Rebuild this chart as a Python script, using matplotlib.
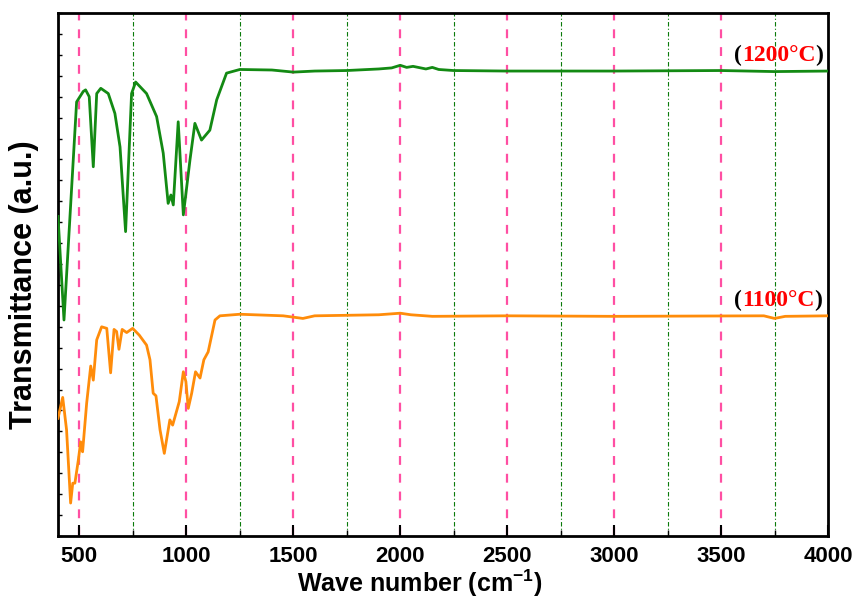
"""FTIR transmittance spectra of samples calcined at 1100 and 1200 C."""

import matplotlib

matplotlib.use("Agg")
import matplotlib.pyplot as plt
from matplotlib.ticker import MultipleLocator, NullFormatter

# wave numbers (cm-1) and transmittance (a.u.)
WN_1200 = [400, 428, 487, 518, 529, 546, 565, 581, 600, 635, 666, 690, 716, 744,
           763, 814, 861, 892, 915, 928, 939, 962, 986, 1017, 1040, 1071, 1110,
           1142, 1188, 1250, 1400, 1500, 1550, 1600, 1750, 1900, 1960, 2000,
           2030, 2060, 2120, 2150, 2180, 2250, 2500, 3000, 3500, 3750, 4000]
T_1200 = [61.1, 41.3, 83.0, 85.0, 85.3, 84.0, 70.6, 84.6, 85.6, 84.6, 80.8, 74.4,
          58.2, 84.6, 86.8, 84.6, 80.2, 73.2, 63.6, 65.2, 63.3, 79.2, 61.4, 71.9,
          78.9, 75.7, 77.6, 83.4, 88.5, 89.2, 89.1, 88.7, 88.8, 88.9, 89.0, 89.3,
          89.5, 90.0, 89.6, 89.8, 89.3, 89.6, 89.2, 89.0, 88.9, 88.9, 89.0, 88.8,
          88.9]

WN_1100 = [400, 422, 440, 459, 469, 479, 495, 506, 515, 534, 553, 565, 581, 604,
           628, 646, 662, 674, 685, 700, 721, 749, 780, 814, 830, 845, 858, 877,
           897, 923, 936, 967, 986, 998, 1009, 1025, 1043, 1064, 1082, 1102,
           1134, 1157, 1250, 1453, 1545, 1600, 1900, 2000, 2050, 2150, 2500,
           3000, 3700, 3750, 3800, 4000]
T_1100 = [22.5, 26.5, 20.3, 6.3, 10.1, 10.1, 14.5, 18.0, 16.1, 25.4, 32.5, 29.8,
          37.5, 40.0, 39.7, 31.2, 39.5, 39.1, 35.7, 39.5, 38.9, 39.7, 38.4, 36.5,
          33.7, 27.3, 26.8, 20.3, 15.8, 22.2, 21.2, 25.7, 31.4, 29.5, 24.4, 27.3,
          31.4, 30.2, 33.7, 35.2, 41.3, 42.1, 42.4, 42.1, 41.6, 42.1, 42.3, 42.6,
          42.3, 42.0, 42.1, 42.0, 42.1, 41.6, 42.0, 42.1]

SAMPLES = [("1200°C", WN_1200, T_1200, "#138a13", 89.2),
           ("1100°C", WN_1100, T_1100, "#ff8c0a", 42.4)]

MAJOR_LINES = [500, 1000, 1500, 2000, 2500, 3000, 3500]
MINOR_LINES = [750, 1250, 1750, 2250, 2750, 3250, 3750]

plt.rcParams["font.family"] = "Liberation Sans"
plt.rcParams["font.weight"] = "bold"
plt.rcParams["mathtext.default"] = "regular"

fig = plt.figure(figsize=(8.57, 5.99), dpi=100)
ax = fig.add_axes([58 / 857, 63 / 599, 770 / 857, 523 / 599])

for x in MAJOR_LINES:
    ax.axvline(x, color="#ff4fa3", lw=1.6, ls=(0, (4, 4)), zorder=1)
for x in MINOR_LINES:
    ax.axvline(x, color="#0a7a0a", lw=0.8, ls=(0, (4, 2, 1, 2)), zorder=1)

for label, wn, t, color, level in SAMPLES:
    ax.plot(wn, t, color=color, lw=2.0, zorder=3)
    # "(" black, temperature red, ")" black
    t0 = ax.text(3560, level + 1.6, "(", color="black", fontsize=17,
                 family="Liberation Serif", fontweight="bold", va="baseline")
    t1 = ax.annotate(label, xy=(1, 0), xycoords=t0, va="bottom", color="red",
                     fontsize=17, family="Liberation Serif", fontweight="bold")
    ax.annotate(")", xy=(1, 0), xycoords=t1, va="bottom", color="black",
                fontsize=17, family="Liberation Serif", fontweight="bold")

ax.set_xlim(400, 4000)
ax.set_ylim(0, 100)
ax.xaxis.set_major_locator(MultipleLocator(500))
ax.xaxis.set_minor_locator(MultipleLocator(250))
ax.yaxis.set_major_locator(MultipleLocator(4))
ax.yaxis.set_major_formatter(NullFormatter())
ax.tick_params(axis="x", which="major", direction="in", length=8, width=1.5,
               labelsize=16, pad=7)
ax.tick_params(axis="x", which="minor", direction="in", length=4, width=1)
ax.tick_params(axis="y", which="major", direction="in", length=3, width=1)
for lab in ax.get_xticklabels():
    lab.set_fontweight("bold")
for spine in ax.spines.values():
    spine.set_linewidth(2)

ax.set_xlabel("Wave number (cm$^{-1}$)", fontsize=18, fontweight="bold")
ax.set_ylabel("Transmittance (a.u.)", fontsize=22, fontweight="bold")
ax.xaxis.set_label_coords(0.47, -0.06)
ax.yaxis.set_label_coords(-0.025, 0.48)

fig.savefig("out.png", dpi=100)
